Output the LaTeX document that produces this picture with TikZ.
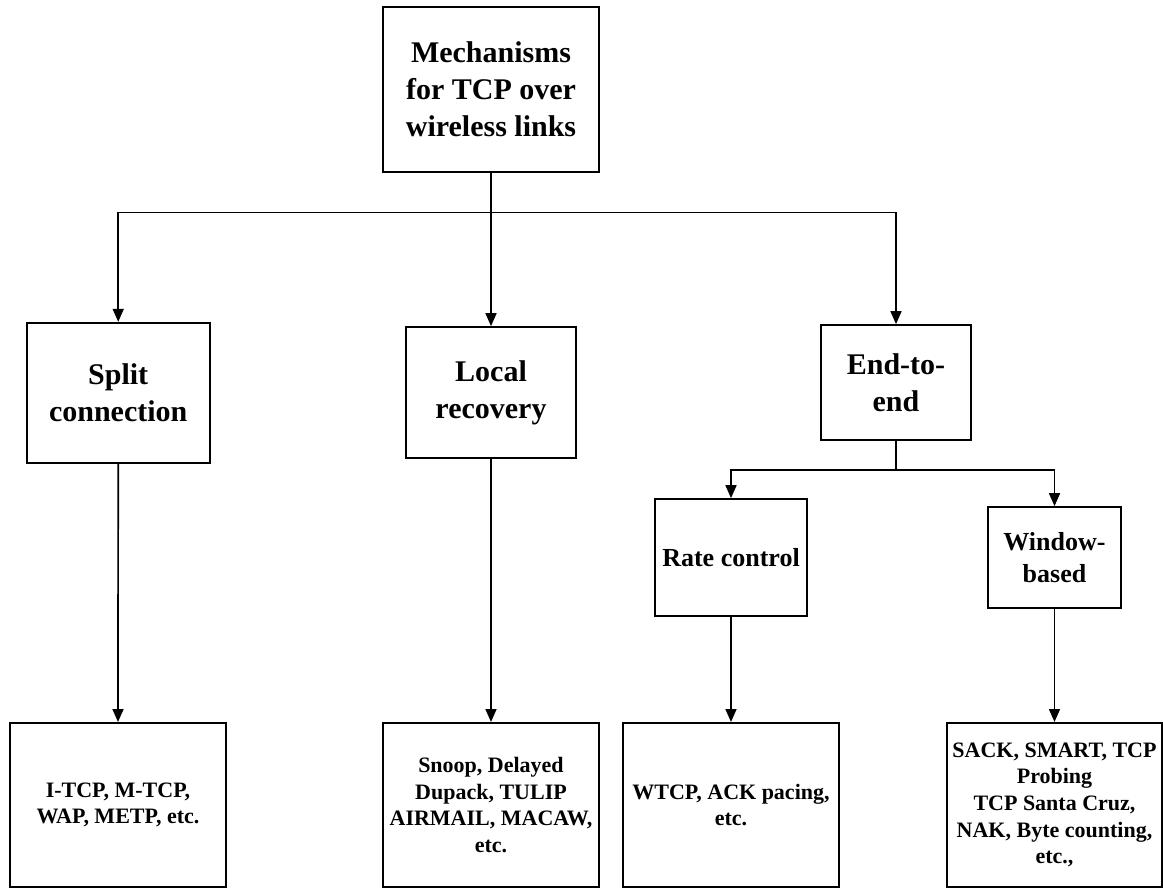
\documentclass[tikz,border=0pt]{standalone}
\usepackage{fontspec}
\setmainfont{Liberation Serif}
\usetikzlibrary{arrows.meta}
\tikzset{
  box/.style={draw, line width=1.7pt, inner sep=0pt, align=center,
    font=\bfseries\fontsize{30}{37}\selectfont},
  smallbox/.style={box, font=\bfseries\fontsize{26}{31.7}\selectfont},
  leaf/.style={draw, line width=2pt, inner sep=0pt, align=center,
    minimum width=216pt, minimum height=164pt,
    font=\bfseries\fontsize{22}{26.7}\selectfont},
  arr/.style={line width=1.7pt, -{Triangle[length=13pt,width=11pt]}},
  ln/.style={line width=1.7pt}
}
\begin{document}
\begin{tikzpicture}[x=1pt,y=-1pt]
\useasboundingbox (0,0) rectangle (1163,888);
% top
\node[box, minimum width=216pt, minimum height=165pt] (top) at (491,89.5)
  {Mechanisms\\for TCP over\\wireless links};
% level 2
\node[box, minimum width=183pt, minimum height=140pt] (split) at (118.2,392.7)
  {Split\\connection};
\node[box, minimum width=170pt, minimum height=131pt] (local) at (491,392.5)
  {Local\\recovery};
\node[box, minimum width=150pt, minimum height=115pt] (end) at (896,382.5)
  {End-to-\\end};
% level 3
\node[smallbox, minimum width=152pt, minimum height=117pt] (rate) at (731,557.5)
  {Rate control};
\node[smallbox, minimum width=133pt, minimum height=101pt] (window) at (1054.5,557.5)
  {Window-\\based};
% leaves
\node[leaf] (b1) at (118,805) {I-TCP, M-TCP,\\WAP, METP, etc.};
\node[leaf] (b2) at (491,805) {Snoop, Delayed\\Dupack, TULIP\\AIRMAIL, MACAW,\\etc.};
\node[leaf] (b3) at (731,805) {WTCP, ACK pacing,\\etc.};
\node[leaf, minimum width=215pt] (b4) at (1054.5,805)
  {SACK, SMART, TCP\\Probing\\TCP Santa Cruz,\\NAK, Byte counting,\\etc.,};
% buses
\coordinate (bus) at (491,212.5);
\coordinate (bus2) at (896,470);
\draw[arr] (top.south) -- (bus) -| (split.north);
\draw[arr] (top.south) -- (local.north);
\draw[arr] (bus) -| (end.north);
\draw[arr] (end.south) -- (bus2) -| (rate.north);
\draw[arr] (bus2) -| (window.north);
% to leaves
\draw[arr] (split.south) -- (b1.north);
\draw[arr] (local.south) -- (b2.north);
\draw[arr] (rate.south) -- (b3.north);
\draw[arr] (window.south) -- (b4.north -| window.south);
\end{tikzpicture}
\end{document}
